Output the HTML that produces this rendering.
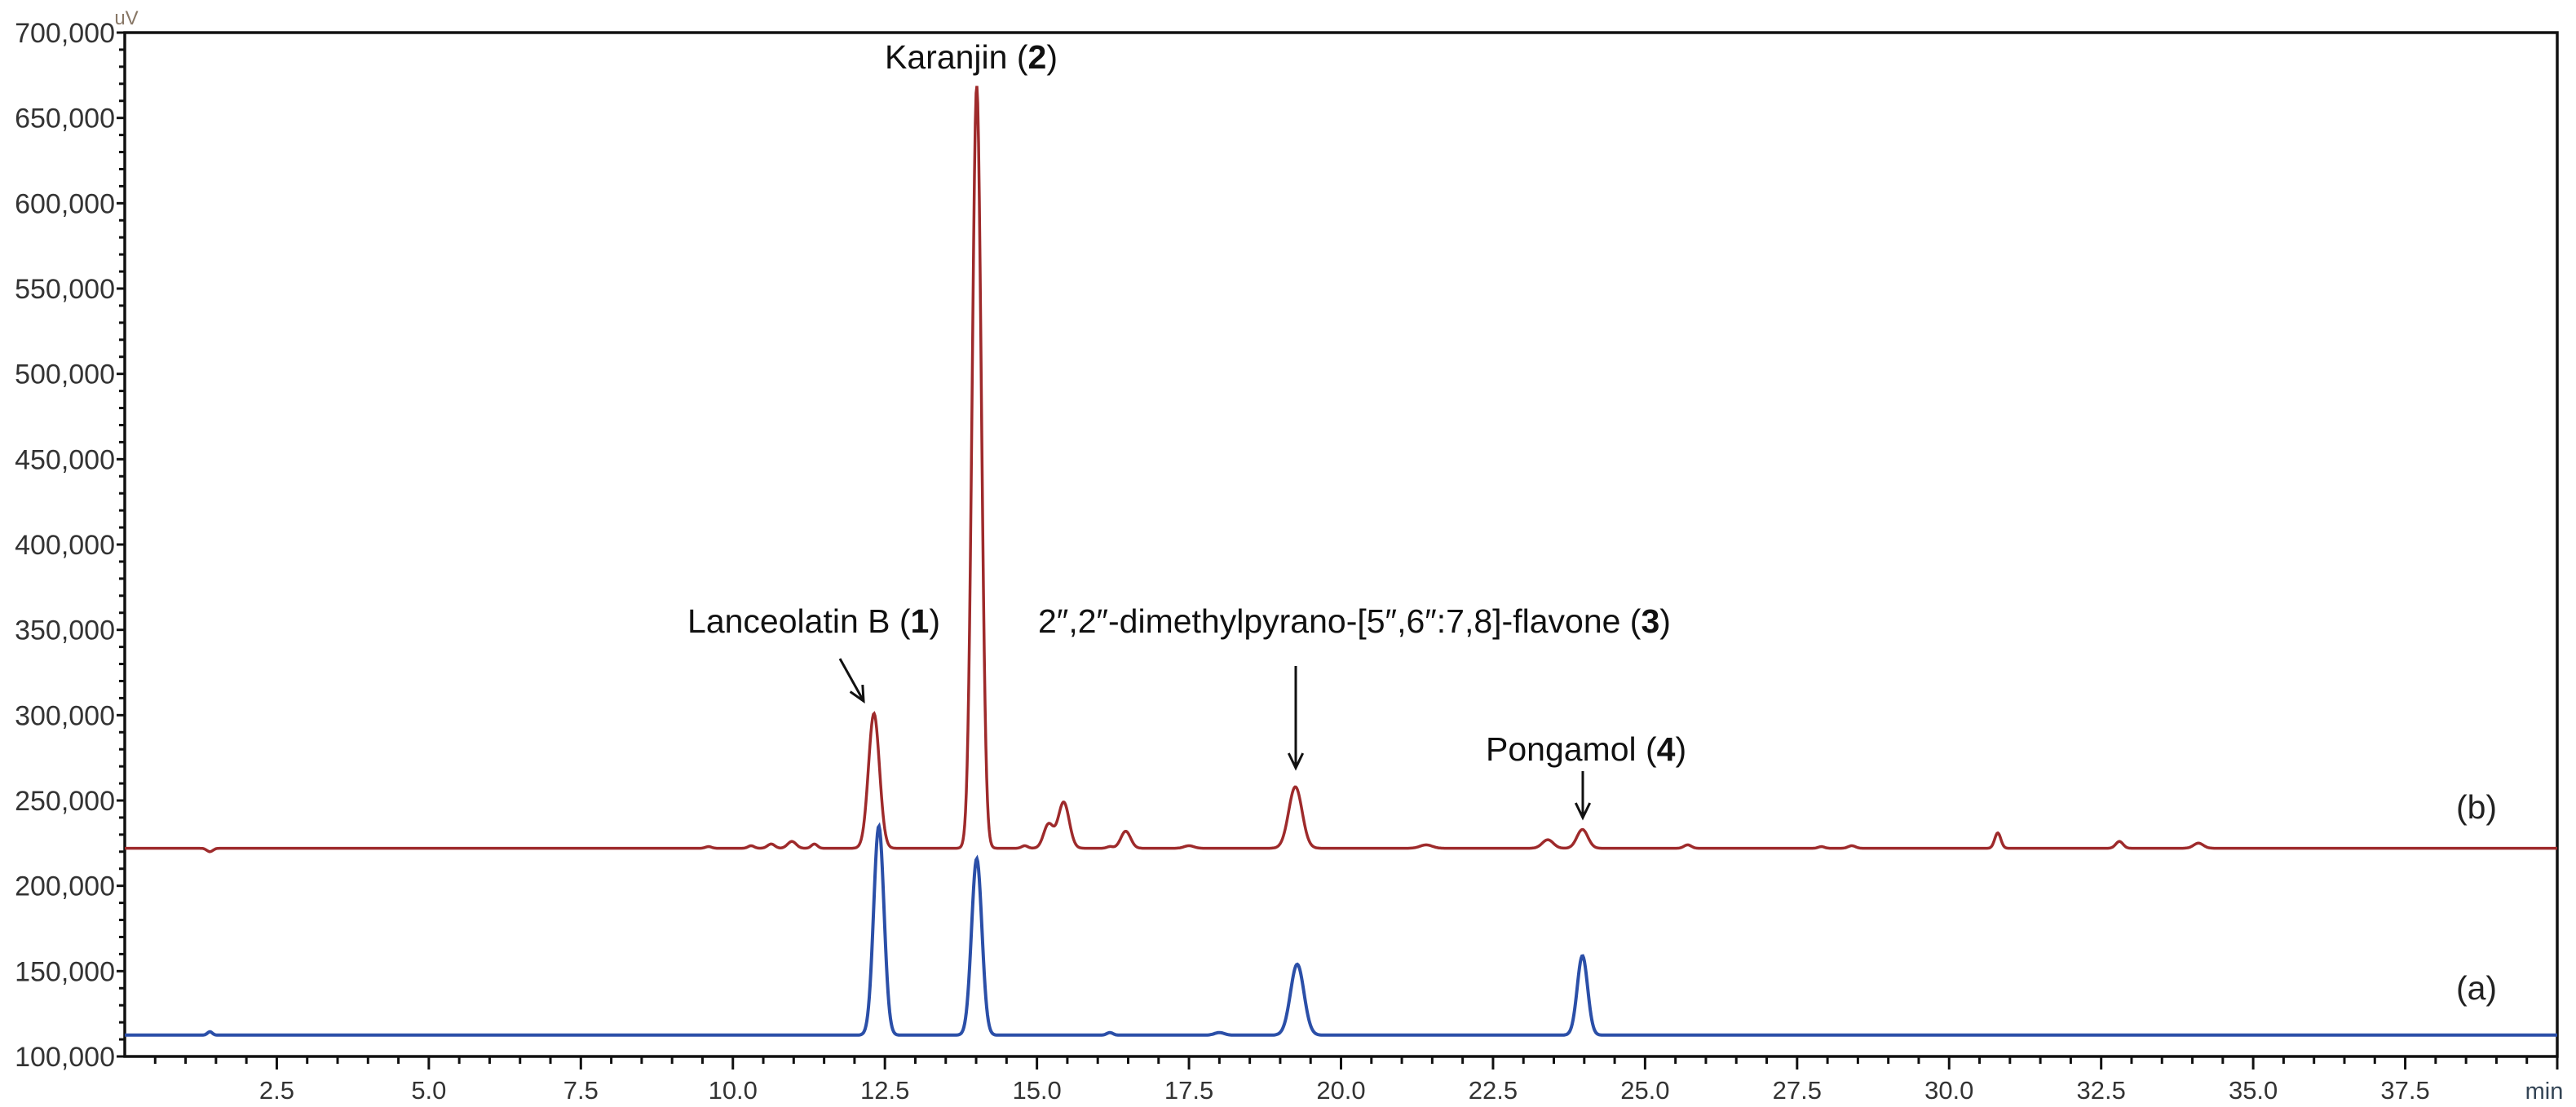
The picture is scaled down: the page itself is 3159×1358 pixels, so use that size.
<!DOCTYPE html>
<html><head><meta charset="utf-8">
<style>
html,body{margin:0;padding:0;background:#fff;}
svg{display:block;font-family:"Liberation Sans",sans-serif;}
</style></head>
<body>
<svg id="chart" width="3159" height="1358" viewBox="0 0 3159 1358" xmlns="http://www.w3.org/2000/svg">
<g id="axes"></g>
<g id="traces"></g>
<g id="annot"></g>
</svg>
<script>
// ---- data ----
const xTicks = [2.5,5.0,7.5,10.0,12.5,15.0,17.5,20.0,22.5,25.0,27.5,30.0,32.5,35.0,37.5];
const yTicks = [100000,150000,200000,250000,300000,350000,400000,450000,500000,550000,600000,650000,700000];
const baselineB = 222000;
const peaksB_time = [1.4,9.6,10.3,10.63,10.97,11.34,12.32,14.01,14.8,15.19,15.44,16.2,16.46,17.5,19.25,21.4,23.4,23.97,25.7,27.9,28.4,30.8,32.8,34.1];
const peaksB_height = [220000,223000,223500,224500,226000,224500,301000,669000,223500,236000,249000,223000,232000,223500,258000,224000,227000,233000,224000,223000,223500,231000,226000,225000];
const peaksB_width = [0.05,0.05,0.05,0.06,0.07,0.05,0.09,0.075,0.05,0.08,0.09,0.05,0.08,0.08,0.11,0.1,0.09,0.09,0.06,0.05,0.06,0.05,0.06,0.08];
const baselineA = 112500;
const peaksA_time = [1.4,12.4,14.01,16.2,18.0,19.28,23.97];
const peaksA_height = [114500,235000,216000,114000,114000,154000,159000];
const peaksA_width = [0.04,0.085,0.085,0.05,0.08,0.11,0.085];

// ---- geometry ----
const X0=153, X1=3136, Y0=1296, Y1=40;
const xMin=0, xMax=40, yMin=100000, yMax=700000;
function xs(t){return X0+(t-xMin)/(xMax-xMin)*(X1-X0);}
function ys(v){return Y0-(v-yMin)/(yMax-yMin)*(Y0-Y1);}
const NS="http://www.w3.org/2000/svg";
function mk(tag,attrs,parent){const e=document.createElementNS(NS,tag);for(const k in attrs)e.setAttribute(k,attrs[k]);parent.appendChild(e);return e;}

const axes=document.getElementById('axes');
const frame=mk('rect',{x:X0,y:Y1,width:X1-X0,height:Y0-Y1,fill:'none',stroke:'#111','stroke-width':3.5},axes);


for(let v=yMin; v<=yMax; v+=10000){
  const y=ys(v), major=(v%50000===0);
  const t=mk('line',{x1:X0-(major?10:7),x2:X0,y1:y,y2:y,stroke:'#111','stroke-width':3},axes);
  
  
}
yTicks.forEach(v=>{
  const t=mk('text',{x:X0-12,y:ys(v)+12,'text-anchor':'end','font-size':34,fill:'#333'},axes);
  t.textContent=v.toLocaleString('en-US');
  
  
});
for(let i=1;i<=80;i++){
  const tm=i*0.5, x=xs(tm), major=(i%5===0);
  const t=mk('line',{x1:x,x2:x,y1:Y0,y2:Y0+(major?16:9),stroke:'#111','stroke-width':3},axes);
  
  
}
xTicks.forEach(v=>{
  const t=mk('text',{x:xs(v),y:Y0+52,'text-anchor':'middle','font-size':31,fill:'#333'},axes);
  t.textContent=v.toFixed(1);
  
  
});
const unitX=mk('text',{x:3120,y:Y0+52,'text-anchor':'middle','font-size':29,fill:'#345'},axes);
unitX.textContent='min';


const unitY=mk('text',{x:X0+2,y:30,'text-anchor':'middle','font-size':24,fill:'#876'},axes);
unitY.textContent='uV';



function trace(base,times,heights,widths){
  let d='';
  for(let px=X0; px<=X1; px+=1){
    const t=xMin+(px-X0)/(X1-X0)*(xMax-xMin);
    let v=base;
    for(let i=0;i<times.length;i++){
      const z=(t-times[i])/widths[i];
      v+=(heights[i]-base)*Math.exp(-0.5*z*z);
    }
    d+=(px===X0?'M':'L')+px+','+ys(v).toFixed(1);
  }
  return d;
}
const tr=document.getElementById('traces');
const pb=mk('path',{d:trace(baselineB,peaksB_time,peaksB_height,peaksB_width),fill:'none',stroke:'#9e2a2b','stroke-width':3.5},tr);


const pa=mk('path',{d:trace(baselineA,peaksA_time,peaksA_height,peaksA_width),fill:'none',stroke:'#2b4fa8','stroke-width':4},tr);



const an=document.getElementById('annot');
function label(txt,num,x,y,anchor,name){
  const t=mk('text',{x:x,y:y,'text-anchor':anchor,'font-size':41,fill:'#111'},an);
  t.innerHTML=txt+'(<tspan font-weight="bold">'+num+'</tspan>)';
  
  
}
function arrow(x1,y1,x2,y2,name){
  const g=mk('g',{},an);
  
  
  mk('line',{x1:x1,y1:y1,x2:x2,y2:y2,stroke:'#111','stroke-width':3},g);
  const a=Math.atan2(y2-y1,x2-x1), L=20, s=0.45;
  const p1=[x2-L*Math.cos(a-s),y2-L*Math.sin(a-s)], p2=[x2-L*Math.cos(a+s),y2-L*Math.sin(a+s)];
  mk('polyline',{points:p1.join(',')+' '+x2+','+y2+' '+p2.join(','),fill:'none',stroke:'#111','stroke-width':3},g);
}
label('Karanjin ','2',1191,84,'middle','label-karanjin');
label('Lanceolatin B ','1',1153,776,'end','label-lanceolatin-b');
arrow(1030,808,1059,860,'arrow-lanceolatin-b');
label('2″,2″-dimethylpyrano-[5″,6″:7,8]-flavone ','3',1273,776,'start','label-flavone');
arrow(1589,817,1589,942,'arrow-flavone');
label('Pongamol ','4',1822,933,'start','label-pongamol');
arrow(1941,946,1941,1003,'arrow-pongamol');
const lb=mk('text',{x:3037,y:1004,'text-anchor':'middle','font-size':41,fill:'#222'},an);
lb.textContent='(b)';


const la=mk('text',{x:3037,y:1226,'text-anchor':'middle','font-size':41,fill:'#222'},an);
la.textContent='(a)';


</script>
</body></html>
